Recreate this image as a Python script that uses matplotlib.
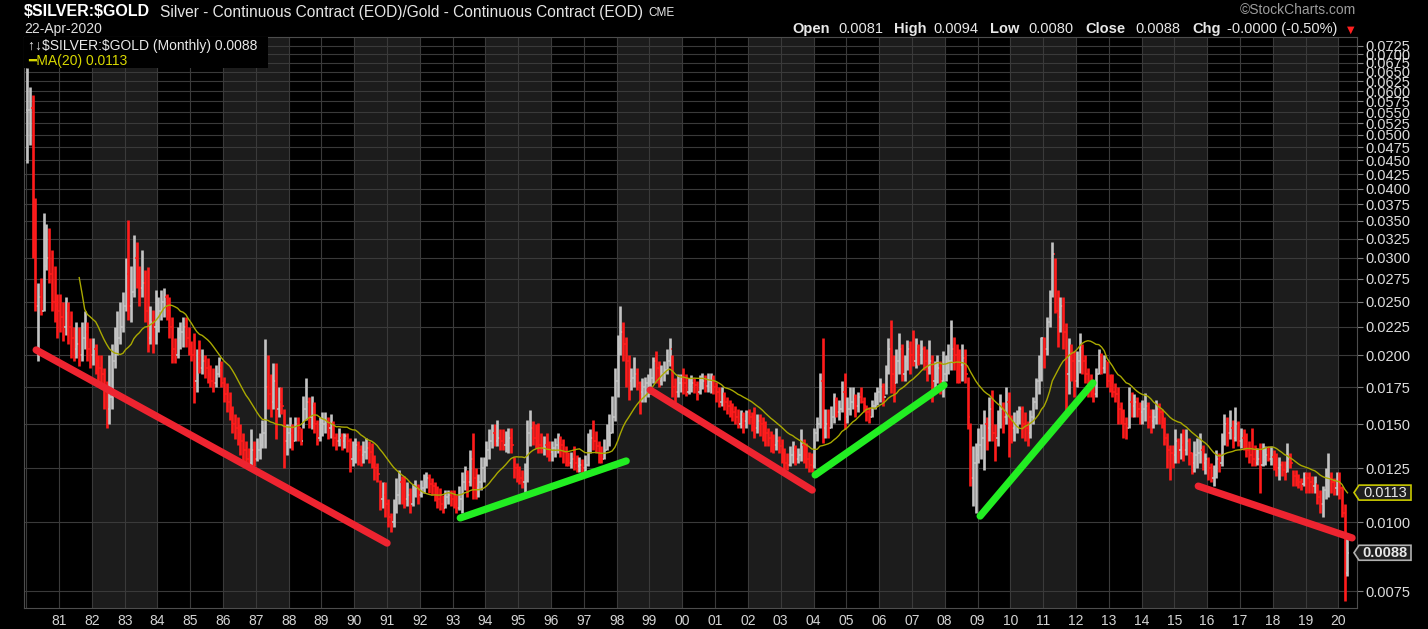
import numpy as np
import pandas as pd
import matplotlib
matplotlib.use("Agg")
import matplotlib.pyplot as plt
from matplotlib.patches import Polygon, Rectangle
from matplotlib.ticker import NullLocator
from matplotlib.transforms import IdentityTransform

plt.rcParams['font.family'] = ['Liberation Sans', 'DejaVu Sans']

# monthly bars Jan 1980 .. Apr 2020, silver/gold ratio in units of 0.0001
close_rows = [
    [555, 560, 310, 245, 255, 240, 290, 300, 280, 250, 245, 240],  # 1980
    [235, 225, 240, 225, 215, 205, 210, 200, 215, 220, 205, 200],
    [205, 195, 190, 185, 175, 160, 168, 195, 205, 215, 225, 245],
    [280, 245, 260, 300, 275, 265, 270, 240, 215, 230, 225, 230],
    [240, 250, 255, 240, 225, 205, 200, 215, 220, 225, 215, 210],
    [200, 180, 195, 190, 195, 190, 185, 180, 178, 185, 190, 178],  # 1985
    [170, 165, 160, 150, 148, 145, 140, 135, 130, 128, 135, 130],
    [135, 138, 145, 175, 170, 165, 180, 160, 165, 162, 140, 145],
    [145, 140, 150, 148, 140, 160, 165, 155, 162, 150, 142, 148],
    [150, 152, 148, 150, 142, 140, 142, 140, 143, 140, 130, 135],
    [138, 135, 132, 134, 136, 134, 130, 125, 122, 110, 112, 108],  # 1990
    [102, 100, 105, 112, 118, 115, 110, 112, 108, 112, 115, 112],
    [115, 118, 120, 117, 116, 112, 110, 108, 106, 111, 112, 110],
    [108, 106, 110, 118, 122, 118, 130, 120, 115, 118, 125, 128],
    [135, 140, 145, 140, 142, 140, 138, 140, 142, 138, 125, 122],
    [120, 118, 122, 145, 148, 142, 140, 138, 136, 138, 135, 134],  # 1995
    [136, 138, 140, 138, 134, 130, 128, 130, 128, 126, 127, 125],
    [127, 138, 142, 140, 137, 133, 130, 135, 140, 145, 155, 180],
    [205, 220, 210, 195, 180, 182, 185, 178, 172, 175, 178, 180],
    [182, 195, 190, 180, 185, 188, 195, 205, 175, 172, 178, 180],
    [178, 172, 175, 178, 177, 172, 178, 180, 176, 180, 182, 175],  # 2000
    [172, 165, 170, 165, 162, 160, 158, 155, 150, 155, 152, 158],
    [155, 150, 148, 152, 150, 148, 145, 142, 140, 138, 140, 137],
    [133, 128, 127, 132, 135, 130, 132, 138, 132, 130, 127, 126],
    [145, 150, 180, 148, 150, 148, 155, 165, 158, 160, 172, 155],
    [160, 165, 168, 162, 168, 165, 162, 158, 155, 162, 168, 172],  # 2005
    [175, 168, 188, 205, 185, 178, 195, 205, 185, 195, 205, 200],
    [195, 205, 200, 205, 195, 190, 195, 180, 185, 190, 180, 185],
    [190, 195, 205, 200, 195, 192, 198, 185, 155, 120, 128, 132],
    [138, 142, 150, 148, 160, 145, 142, 150, 160, 155, 165, 150],
    [148, 150, 155, 160, 150, 148, 145, 155, 165, 180, 195, 215],  # 2010
    [205, 230, 260, 305, 240, 235, 245, 220, 185, 200, 195, 180],
    [195, 205, 195, 185, 180, 172, 170, 185, 200, 190, 195, 180],
    [178, 172, 170, 160, 158, 150, 148, 165, 162, 165, 160, 158],
    [160, 162, 155, 152, 155, 160, 158, 155, 142, 135, 133, 132],
    [140, 135, 138, 135, 140, 133, 128, 132, 133, 135, 128, 130],  # 2015
    [125, 120, 122, 130, 128, 140, 150, 145, 148, 142, 150, 140],
    [142, 140, 135, 132, 130, 128, 130, 127, 131, 132, 130, 131],
    [127, 125, 127, 124, 123, 130, 128, 121, 119, 118, 117, 121],
    [120, 118, 116, 117, 111, 108, 114, 120, 120, 118, 115, 118],
    [115, 104, 81, 88],  # 2020
]
high_rows = [
    [660, 610, 590, 385, 270, 276, 361, 345, 340, 310, 290, 258],
    [258, 250, 255, 250, 240, 225, 230, 225, 230, 240, 230, 215],
    [215, 210, 200, 200, 190, 180, 200, 210, 225, 240, 250, 260],
    [300, 351, 290, 330, 320, 290, 310, 285, 289, 245, 241, 262],
    [255, 262, 265, 258, 255, 235, 215, 225, 230, 235, 235, 225],
    [212, 219, 205, 213, 205, 200, 198, 192, 190, 192, 199, 195],
    [183, 178, 172, 162, 157, 155, 150, 145, 140, 136, 147, 140],
    [142, 145, 153, 214, 200, 185, 194, 194, 175, 175, 160, 150],
    [155, 150, 155, 155, 148, 169, 182, 168, 169, 165, 153, 155],
    [158, 158, 155, 157, 152, 145, 148, 145, 145, 145, 142, 140],
    [142, 140, 138, 140, 142, 140, 139, 132, 128, 119, 118, 118],
    [110, 104, 110, 120, 124, 121, 121, 118, 115, 117, 119, 117],
    [119, 122, 123, 122, 120, 118, 116, 115, 112, 114, 114, 114],
    [114, 112, 116, 123, 126, 124, 135, 145, 125, 122, 131, 131],
    [140, 147, 150, 150, 153, 147, 147, 146, 148, 148, 131, 128],
    [126, 124, 128, 153, 159, 152, 150, 151, 145, 143, 145, 140],
    [140, 142, 145, 143, 141, 137, 134, 134, 137, 132, 131, 130],
    [132, 145, 147, 153, 146, 140, 137, 141, 150, 157, 169, 190],
    [218, 245, 230, 216, 200, 190, 199, 190, 180, 182, 183, 185],
    [190, 199, 204, 195, 192, 195, 205, 215, 200, 182, 185, 185],
    [190, 185, 182, 184, 182, 180, 184, 186, 184, 186, 186, 184],
    [179, 175, 175, 172, 168, 166, 164, 162, 160, 159, 158, 159],
    [160, 158, 161, 157, 157, 155, 152, 148, 146, 144, 148, 143],
    [141, 136, 133, 137, 140, 138, 136, 147, 141, 139, 134, 133],
    [148, 155, 186, 215, 160, 160, 162, 171, 168, 166, 180, 186],
    [168, 175, 175, 170, 172, 175, 168, 163, 161, 166, 172, 175],
    [182, 178, 192, 215, 232, 200, 205, 219, 210, 200, 213, 212],
    [222, 215, 210, 213, 208, 205, 213, 200, 195, 200, 195, 204],
    [200, 210, 232, 216, 210, 205, 210, 205, 183, 151, 137, 139],
    [148, 150, 159, 155, 168, 173, 150, 159, 170, 165, 175, 172],
    [156, 158, 159, 162, 162, 158, 152, 159, 168, 182, 200, 216],
    [216, 235, 262, 320, 300, 262, 255, 255, 229, 215, 210, 204],
    [204, 219, 210, 200, 190, 185, 180, 190, 205, 202, 200, 195],
    [185, 185, 178, 175, 165, 160, 155, 175, 172, 170, 168, 165],
    [166, 171, 165, 160, 160, 166, 164, 160, 155, 145, 138, 138],
    [147, 142, 145, 147, 147, 142, 134, 140, 142, 145, 138, 133],
    [131, 128, 127, 135, 133, 145, 157, 155, 159, 153, 161, 152],
    [148, 147, 145, 140, 148, 138, 136, 139, 139, 137, 137, 137],
    [135, 133, 131, 129, 129, 139, 133, 124, 124, 122, 120, 123],
    [123, 123, 121, 121, 117, 114, 116, 125, 133, 123, 120, 123],
    [123, 116, 108, 94],
]
low_rows = [
    [445, 480, 300, 240, 195, 236, 240, 285, 270, 240, 230, 215],
    [220, 212, 218, 210, 198, 195, 198, 191, 195, 205, 195, 190],
    [192, 185, 180, 175, 160, 148, 150, 160, 190, 200, 210, 220],
    [240, 232, 230, 255, 265, 245, 255, 230, 203, 210, 202, 210],
    [220, 232, 235, 232, 215, 194, 194, 198, 205, 207, 207, 200],
    [195, 164, 172, 186, 185, 182, 178, 175, 172, 175, 183, 175],
    [165, 158, 153, 145, 141, 138, 132, 128, 126, 124, 127, 126],
    [129, 130, 136, 136, 160, 155, 160, 141, 155, 157, 125, 132],
    [136, 135, 140, 140, 138, 148, 153, 148, 147, 145, 138, 140],
    [143, 145, 141, 142, 137, 135, 137, 135, 136, 134, 123, 126],
    [128, 127, 126, 128, 130, 128, 125, 119, 118, 105, 106, 102],
    [98, 96, 98, 104, 108, 108, 106, 107, 104, 107, 111, 108],
    [111, 113, 115, 113, 112, 109, 106, 105, 104, 106, 108, 107],
    [106, 104, 105, 104, 114, 111, 116, 110, 110, 111, 114, 118],
    [126, 130, 136, 137, 137, 135, 135, 134, 133, 133, 120, 118],
    [117, 115, 113, 118, 137, 138, 136, 133, 133, 132, 131, 129],
    [129, 131, 133, 131, 128, 126, 126, 125, 124, 123, 123, 122],
    [123, 126, 133, 135, 133, 128, 128, 130, 135, 137, 145, 152],
    [168, 200, 195, 175, 166, 173, 175, 173, 157, 165, 165, 168],
    [170, 178, 178, 175, 177, 180, 185, 191, 168, 165, 168, 172],
    [170, 169, 170, 172, 171, 166, 170, 174, 172, 172, 171, 170],
    [165, 161, 162, 159, 157, 155, 152, 150, 148, 148, 145, 148],
    [150, 146, 142, 145, 143, 140, 137, 137, 134, 133, 135, 133],
    [128, 124, 124, 126, 128, 127, 128, 129, 128, 125, 123, 123],
    [125, 140, 148, 139, 142, 142, 148, 151, 155, 153, 158, 147],
    [151, 156, 160, 155, 158, 164, 158, 152, 151, 155, 160, 163],
    [165, 162, 170, 185, 171, 165, 178, 185, 180, 180, 188, 185],
    [191, 190, 192, 193, 188, 180, 185, 165, 171, 178, 170, 168],
    [180, 185, 188, 188, 178, 178, 180, 178, 147, 116, 107, 104],
    [128, 130, 124, 135, 140, 140, 129, 137, 148, 145, 150, 131],
    [139, 140, 145, 150, 142, 140, 137, 142, 150, 160, 170, 180],
    [190, 200, 225, 255, 238, 207, 220, 205, 159, 170, 180, 168],
    [175, 186, 185, 178, 168, 168, 165, 168, 185, 185, 186, 175],
    [172, 168, 165, 150, 150, 142, 141, 148, 155, 155, 155, 150],
    [150, 152, 148, 145, 148, 150, 150, 148, 138, 125, 119, 125],
    [128, 128, 130, 129, 132, 127, 122, 123, 125, 128, 124, 122],
    [119, 118, 116, 120, 123, 126, 138, 137, 141, 136, 140, 137],
    [136, 135, 131, 128, 126, 126, 127, 113, 126, 127, 129, 127],
    [124, 121, 119, 121, 119, 123, 125, 116, 116, 115, 114, 116],
    [113, 113, 113, 113, 108, 104, 102, 110, 111, 113, 112, 112],
    [110, 102, 72, 80],
]

# hand drawn trend lines (decimal year, ratio)
trend_x0 = [1980.30, 1993.23, 1999.02, 2004.05, 2009.08, 2015.73]
trend_y0 = [0.02045, 0.01017, 0.01731, 0.01216, 0.01025, 0.01161]
trend_x1 = [1991.00, 1998.29, 2003.96, 2007.98, 2012.52, 2020.42]
trend_y1 = [0.00916, 0.01289, 0.01142, 0.01767, 0.01783, 0.00936]
trend_dir = ['down', 'up', 'down', 'up', 'up', 'down']

y_ticks = [0.0075 + 0.0025 * i for i in range(27)]
last_close = 0.0088
last_ma = 0.0113

closes = np.concatenate([np.array(r, float) for r in close_rows]) / 10000
highs = np.concatenate([np.array(r, float) for r in high_rows]) / 10000
lows = np.concatenate([np.array(r, float) for r in low_rows]) / 10000
assert len(closes) == len(highs) == len(lows)

RED = '#ff1c1c'
GRAY = '#c4c4c4'
xs = 1980 + np.arange(len(closes)) / 12 + 0.03
prev_close = np.r_[closes[0], closes[:-1]]   # open tick = prior month's close
up = closes >= prev_close
bar_colors = np.where(up, GRAY, RED)
ma = pd.Series(closes).rolling(20).mean()

W, H = 1428, 629
fig = plt.figure(figsize=(W / 100, H / 100), dpi=100, facecolor='black')
ax = fig.add_axes([24 / W, 21 / H, 1333 / W, 571 / H])
ax.set_facecolor('black')
ax.set_yscale('log')
ax.set_xlim(1979.93, 2020.57)
ax.set_ylim(0.006994, 0.07513)

# alternating two-year bands
for y0 in range(1982, 2020, 4):
    ax.axvspan(y0, y0 + 2, color='#1c1c1c', lw=0, zorder=0)

ax.yaxis.set_minor_locator(NullLocator())
ax.set_yticks(y_ticks)
ax.set_yticklabels([f"{t:.4f}" for t in y_ticks])
ax.yaxis.tick_right()
ax.tick_params(axis='y', which='major', right=True, left=False, length=4,
               color='#808080', labelcolor='#dcdcdc', labelsize=10.5, pad=2)
years = list(range(1980, 2021))
ax.set_xticks(years)
ax.set_xticklabels([''] + [f"{y % 100:02d}" for y in years[1:]])
ax.tick_params(axis='x', length=0, labelcolor='#d4d4d4', labelsize=10, pad=4)
ax.grid(True, color='#3a3a3a', lw=0.8)
ax.set_axisbelow(True)
for s in ax.spines.values():
    s.set_color('#4d4d4d')

# OHLC bars
ax.vlines(xs, lows, highs, colors=bar_colors, lw=1.9, zorder=3)
ax.hlines(prev_close, xs - 0.045, xs, colors=bar_colors, lw=1.1, zorder=3)
ax.hlines(closes, xs, xs + 0.045, colors=bar_colors, lw=1.1, zorder=3)
ax.plot(xs, ma, color='#a9a900', lw=1.0, zorder=4)

for x0, y0, x1, y1, d in zip(trend_x0, trend_y0, trend_x1, trend_y1, trend_dir):
    c = '#ee2430' if d == 'down' else '#22ee22'
    ax.plot([x0, x1], [y0, y1], color=c, lw=5.2, solid_capstyle='round', zorder=5)

# legend block inside the plot
ax.add_patch(Rectangle((0, 0.946), 0.183, 0.054, transform=ax.transAxes,
                       facecolor='black', edgecolor='none', zorder=6))
ax.text(0.003, 0.984, "↑↓$SILVER:$GOLD (Monthly) 0.0088", transform=ax.transAxes,
        color='#e8e8e8', fontsize=10, va='center', ha='left', zorder=7, parse_math=False)
ax.text(0.003, 0.958, "━MA(20) 0.0113", transform=ax.transAxes,
        color='#d8d800', fontsize=10, va='center', ha='left', zorder=7)


def px(x, y):
    return x / W, 1 - y / H


fig.text(*px(24, 12), "$SILVER:$GOLD", color='white', fontsize=11.5, fontweight='bold',
         va='center', ha='left', parse_math=False)
fig.text(*px(160, 12), "Silver - Continuous Contract (EOD)/Gold - Continuous Contract (EOD)",
         color='#e6e6e6', fontsize=11.2, va='center', ha='left')
fig.text(*px(648, 13), "CME", color='#e6e6e6', fontsize=8.5, va='center', ha='left')
fig.text(*px(24, 29), "22-Apr-2020", color='#e0e0e0', fontsize=10, va='center', ha='left')
fig.text(*px(1356, 10), "©StockCharts.com", color='#9c9c9c', fontsize=10, va='center', ha='right')

ohlc_parts = [(792, "Open", True), (838, "0.0081", False), (894, "High", True),
              (933, "0.0094", False), (990, "Low", True), (1028, "0.0080", False),
              (1085, "Close", True), (1135, "0.0088", False), (1192, "Chg", True),
              (1227, "-0.0000 (-0.50%)", False)]
for xp, t, b in ohlc_parts:
    fig.text(*px(xp, 29), t, color='#e8e8e8', fontsize=10.5,
             fontweight='bold' if b else 'normal', va='center', ha='left')
fig.text(*px(1351, 30), "▼", color='#ff2020', fontsize=7, va='center', ha='center',
         family='DejaVu Sans')

# value tags on the right axis
x_edge, _ = ax.transData.transform((2020.57, 0.01))


def tag(value, text, edge, weight):
    _, yc = ax.transData.transform((2020.57, value))
    pts = [(x_edge - 3, yc), (x_edge + 2, yc + 7.5), (x_edge + 54, yc + 7.5),
           (x_edge + 54, yc - 7.5), (x_edge + 2, yc - 7.5)]
    fig.add_artist(Polygon(pts, closed=True, transform=IdentityTransform(),
                           facecolor='#1e1e1e', edgecolor=edge, lw=1.2))
    fig.text((x_edge + 28) / W, yc / H, text, color='#e8e8e8', fontsize=10.5,
             fontweight=weight, va='center', ha='center')


tag(last_ma, "0.0113", '#c8c800', 'normal')
tag(last_close, "0.0088", '#b0b0b0', 'bold')

fig.savefig("out.png", dpi=100, facecolor='black')
